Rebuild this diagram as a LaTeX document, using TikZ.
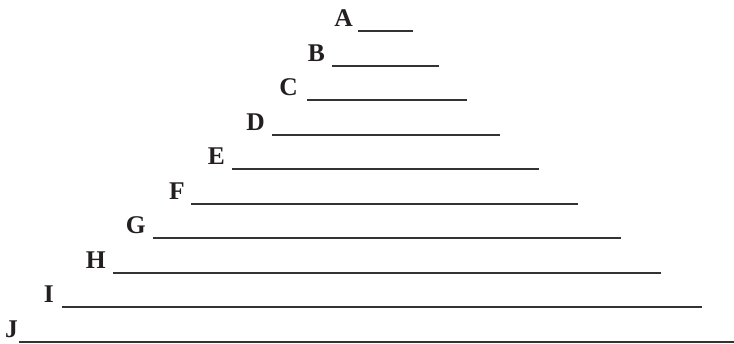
\documentclass[tikz,border=0pt]{standalone}
\usepackage{fontspec}
\setmainfont{Liberation Serif}
\definecolor{ink}{HTML}{231F20}
\definecolor{rule}{HTML}{333333}
\begin{document}
\begin{tikzpicture}[x=1pt,y=-1pt,
  lbl/.style={anchor=base east,inner sep=0pt,font=\fontsize{25.5}{25.5}\selectfont\bfseries,text=ink},
  blank/.style={draw=rule,line width=2.1pt}]
\useasboundingbox (0,0) rectangle (734,343);
\foreach \n/\k/\lx/\sx/\ex/\w in {A/0/353/358/413/2.1, B/1/325/332/439/2.1, C/2/298/307/466.7/2.1, D/3/265/272/500/2.1, E/4/225/232/539/2.1, F/5/185/191/578/2.1, G/6/146/153/621/2.1, H/7/106/113/660.7/2.1, I/8/54/62/702/2.1, J/9/18/19/734/1.5}{
  \pgfmathsetmacro{\yy}{31+34.55*\k}
  \node[lbl] (l\n) at (\lx,\yy-4.5) {\n};
  \coordinate (s\n) at (\sx,\yy);
  \coordinate (e\n) at (\ex,\yy);
  \draw[blank,line width=\w pt] (s\n) -- (e\n);
}
\end{tikzpicture}
\end{document}
